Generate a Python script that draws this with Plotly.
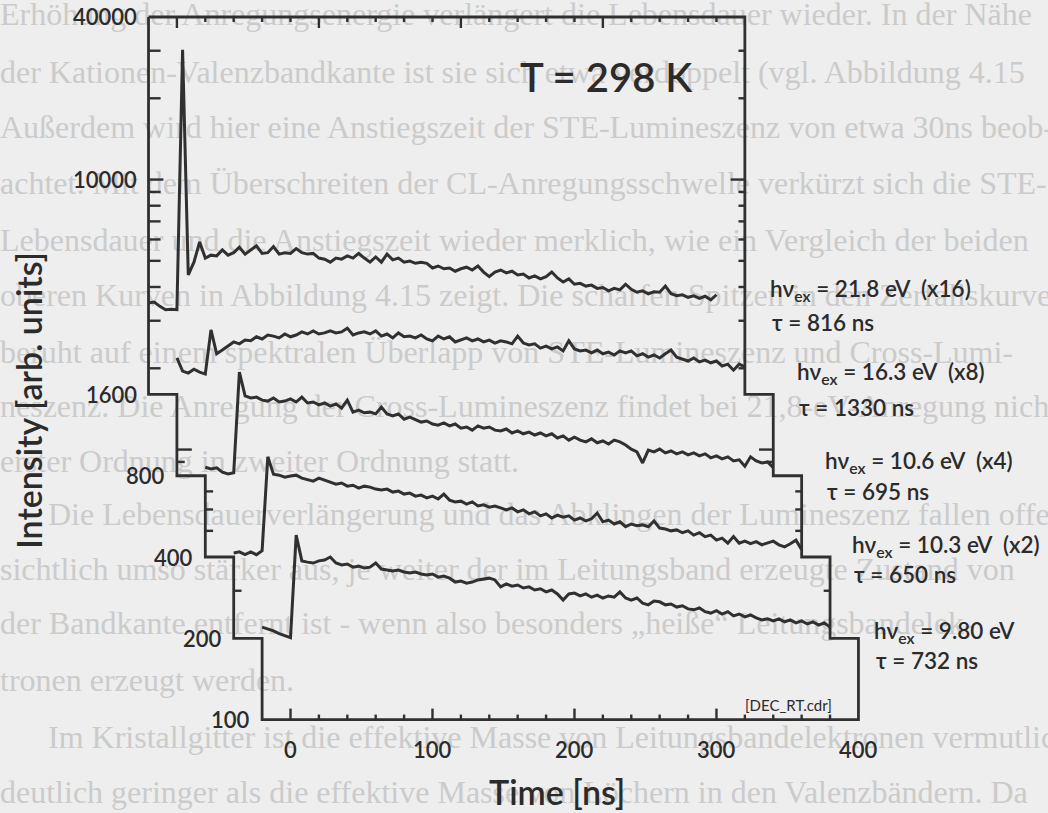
import numpy as np
import plotly.graph_objects as go

# Sample times of every transient, ns after the excitation pulse
t = np.arange(-20, 381, 4)

# Raw counts per channel, one list per excitation energy
counts_21_8 = [218, 220, 212, 206, 207, 206, 1890, 277, 309, 367,
               320, 328, 326, 343, 328, 335, 351, 331, 343, 355,
               333, 335, 353, 331, 335, 333, 347, 335, 331, 333,
               320, 317, 309, 320, 317, 326, 320, 333, 320, 309,
               323, 309, 331, 315, 320, 309, 312, 306, 309, 306,
               294, 299, 292, 294, 286, 292, 296, 289, 299, 284,
               273, 284, 289, 282, 286, 277, 279, 270, 275, 268,
               273, 284, 270, 261, 268, 256, 258, 252, 254, 247,
               249, 242, 247, 244, 256, 245, 239, 242, 236, 240,
               239, 252, 236, 232, 234, 229, 232, 227, 231, 224,
               234]
counts_16_3 = [273, 244, 240, 248, 242, 238, 347, 283, 292, 302,
               313, 308, 318, 316, 327, 321, 332, 329, 324, 335,
               327, 332, 341, 335, 344, 335, 338, 344, 338, 341,
               352, 332, 338, 341, 335, 344, 329, 335, 324, 338,
               327, 329, 324, 332, 321, 316, 329, 321, 327, 313,
               318, 324, 316, 321, 313, 318, 310, 316, 313, 308,
               329, 310, 305, 308, 297, 302, 295, 300, 290, 316,
               295, 290, 292, 285, 292, 283, 287, 280, 290, 285,
               290, 278, 283, 275, 280, 273, 283, 292, 275, 271,
               266, 273, 264, 268, 262, 266, 255, 259, 246, 259,
               253]
counts_10_6 = [215, 212, 214, 206, 203, 205, 484, 395, 388, 391,
               381, 378, 388, 375, 378, 385, 375, 391, 372, 375,
               366, 372, 362, 369, 356, 381, 344, 350, 342, 344,
               339, 359, 339, 333, 339, 324, 330, 322, 316, 319,
               311, 308, 314, 306, 311, 300, 303, 295, 306, 300,
               303, 295, 293, 298, 288, 293, 286, 290, 283, 288,
               281, 286, 276, 281, 271, 278, 271, 267, 274, 265,
               269, 262, 271, 267, 260, 251, 245, 223, 249, 245,
               251, 243, 247, 241, 245, 239, 243, 237, 241, 233,
               237, 231, 235, 227, 229, 217, 235, 227, 223, 225,
               214]
counts_10_3 = [207, 209, 204, 209, 204, 211, 470, 405, 402, 395,
               399, 402, 392, 388, 382, 392, 385, 379, 372, 376,
               366, 369, 360, 366, 363, 357, 354, 357, 348, 351,
               342, 345, 336, 339, 331, 336, 328, 342, 325, 320,
               322, 314, 320, 309, 312, 306, 309, 304, 299, 304,
               294, 299, 289, 294, 284, 289, 279, 286, 281, 284,
               274, 279, 272, 277, 291, 270, 274, 265, 270, 259,
               265, 261, 263, 259, 272, 256, 254, 250, 252, 246,
               250, 241, 246, 238, 241, 231, 235, 225, 238, 225,
               229, 224, 228, 222, 225, 229, 222, 218, 224, 231,
               213]
counts_9_80 = [220, 217, 213, 208, 204, 201, 482, 387, 383, 380,
               387, 390, 400, 380, 374, 377, 367, 370, 364, 367,
               380, 361, 358, 355, 358, 352, 349, 352, 346, 343,
               346, 337, 340, 334, 323, 326, 320, 323, 329, 332,
               334, 329, 310, 318, 312, 315, 307, 310, 302, 305,
               297, 302, 292, 277, 292, 294, 287, 292, 284, 289,
               282, 287, 284, 297, 282, 277, 282, 270, 266, 275,
               273, 266, 268, 261, 264, 257, 255, 259, 251, 248,
               253, 246, 251, 242, 246, 240, 244, 238, 234, 236,
               232, 236, 230, 234, 228, 232, 226, 230, 224, 228,
               220]

series = [counts_21_8, counts_16_3, counts_10_6, counts_10_3, counts_9_80]
energies = ["21.8", "16.3", "10.6", "10.3", "9.80"]
scale = [16, 8, 4, 2, 1]
lifetimes = [816, 1330, 695, 650, 732]

# Each transient sits in its own stepped panel, shifted in time
time_shift = [-80, -60, -40, -20, 0]
panel_floor = [1600, 800, 400, 200, 100]
panel_top = 40000
panel_span = (-20, 400)
y_tick_labels = [40000, 10000, 1600, 800, 400, 200, 100]
x_tick_labels = [0, 100, 200, 300, 400]

# Page text showing through behind the figure
page_lines = [
    "Erhöhung der Anregungsenergie verlängert die Lebensdauer wieder. In der Nähe",
    "der Kationen-Valenzbandkante ist sie sich etwa verdoppelt (vgl. Abbildung 4.15",
    "Außerdem wird hier eine Anstiegszeit der STE-Lumineszenz von etwa 30ns beob-",
    "achtet. Mit dem Überschreiten der CL-Anregungsschwelle verkürzt sich die STE-",
    "Lebensdauer und die Anstiegszeit wieder merklich, wie ein Vergleich der beiden",
    "oberen Kurven in Abbildung 4.15 zeigt. Die scharfen Spitzen in den Zerfallskurven",
    "beruht auf einem spektralen Überlapp von STE-Lumineszenz und Cross-Lumi-",
    "neszenz. Die Anregung der Cross-Lumineszenz findet bei 21,8-eV-Anregung nicht in",
    "erster Ordnung in zweiter Ordnung statt.",
    "      Die Lebensdauerverlängerung und das Abklingen der Lumineszenz fallen offen-",
    "sichtlich umso stärker aus, je weiter der im Leitungsband erzeugte Zustand von",
    "der Bandkante entfernt ist - wenn also besonders „heiße“ Leitungsbandelek-",
    "tronen erzeugt werden.",
    "      Im Kristallgitter ist die effektive Masse von Leitungsbandelektronen vermutlich",
    "deutlich geringer als die effektive Masse von Löchern in den Valenzbändern. Da",
]
page_line_y = [17, 75, 130, 186, 243, 298, 355, 409, 464, 517, 572, 626, 683, 740, 795]

W, H = 1048, 813
INK = "#303030"
TEXT = "#2b2b2b"
FONT = "Lato"
PX_PER_DECADE = H / (4.665 - 1.654)

fig = go.Figure()

# background page text (pixel-like layer underneath)
fig.add_trace(go.Scatter(
    x=[0] * len(page_lines), y=page_line_y, text=page_lines, mode="text",
    textposition="middle right", cliponaxis=False, hoverinfo="skip", showlegend=False,
    textfont=dict(family="Liberation Serif", size=32, color="#cbcbcb"),
))

# stepped frame around the five panels
lo, hi = panel_span
fx, fy = [time_shift[0] + lo], [panel_top]
for k in range(5):
    fx.append(time_shift[k] + lo); fy.append(panel_floor[k])
    if k < 4:
        fx.append(time_shift[k + 1] + lo); fy.append(panel_floor[k])
fx.append(time_shift[4] + hi); fy.append(panel_floor[4])
for k in range(4, -1, -1):
    ceil = panel_floor[k - 1] if k > 0 else panel_top
    fx.append(time_shift[k] + hi); fy.append(ceil)
    if k > 0:
        fx.append(time_shift[k - 1] + hi); fy.append(ceil)
fx.append(time_shift[0] + lo); fy.append(panel_top)
fig.add_trace(go.Scatter(x=fx, y=fy, mode="lines", xaxis="x2", yaxis="y2",
                         line=dict(color=INK, width=2.8), hoverinfo="skip", showlegend=False))


def minor_values(a, b):
    out = []
    for e in range(1, 6):
        for m in range(1, 10):
            v = m * 10 ** e
            if a < v < b:
                out.append(v)
    return out


tx, ty = [], []
for k in range(5):
    ceil = panel_floor[k - 1] if k > 0 else panel_top
    for v in minor_values(panel_floor[k], ceil):
        decade = np.isclose(np.log10(v) % 1, 0)
        left_len = 10.5 if decade else (8.5 if k == 0 else 5.5)
        right_len = 10.0 if decade else 4.5
        xl = time_shift[k] + lo
        xr = time_shift[k] + hi
        tx += [xl, xl + left_len, None, xr, xr - right_len, None]
        ty += [v, v, None, v, v, None]
for tt in range(0, 400, 20):
    major = tt % 100 == 0
    lpx = 11 if major else 5
    xt = time_shift[0] + tt
    tx += [xt, xt, None]
    ty += [panel_top, panel_top / 10 ** (lpx / PX_PER_DECADE), None]
    xb = time_shift[4] + tt
    tx += [xb, xb, None]
    ty += [panel_floor[4], panel_floor[4] * 10 ** (lpx / PX_PER_DECADE), None]
fig.add_trace(go.Scatter(x=tx, y=ty, mode="lines", xaxis="x2", yaxis="y2",
                         line=dict(color=INK, width=2.4), hoverinfo="skip", showlegend=False))

# decay transients, scaled by their factor and shifted into their panel
for k, counts in enumerate(series):
    fig.add_trace(go.Scatter(
        x=t + time_shift[k], y=np.asarray(counts, dtype=float) * scale[k],
        mode="lines", xaxis="x2", yaxis="y2",
        line=dict(color=INK, width=3.0), hoverinfo="skip", showlegend=False,
        name=f"{energies[k]} eV",
    ))

ann = []
for v in y_tick_labels:
    seg = panel_floor.index(v) if v in panel_floor else 0
    ann.append(dict(x=time_shift[seg] + lo - 7, y=np.log10(v), xref="x2", yref="y2",
                    text=str(v), xanchor="right", yanchor="middle", showarrow=False,
                    font=dict(family=FONT, size=22, color=TEXT, weight=600)))
for v in x_tick_labels:
    ann.append(dict(x=time_shift[4] + v, y=np.log10(panel_floor[4]), xref="x2", yref="y2",
                    text=str(v), xanchor="center", yanchor="top", yshift=-14, showarrow=False,
                    font=dict(family=FONT, size=22, color=TEXT, weight=600)))


def px(x):
    return x / W


def py(y):
    return 1 - y / H


label_pos = [(768, 290, 323), (795, 373, 407), (823, 462, 491), (850, 546, 574), (872, 632, 660)]
for k in range(5):
    xl, yh, yt = label_pos[k]
    txt = f"hν<sub>ex</sub> = {energies[k]} eV"
    if scale[k] > 1:
        txt += f"  (x{scale[k]})"
    ann.append(dict(x=px(xl), y=py(yh), xref="paper", yref="paper", text=txt,
                    xanchor="left", yanchor="middle", showarrow=False,
                    font=dict(family=FONT, size=22.5, color=TEXT, weight=600)))
    ann.append(dict(x=px(xl + 2), y=py(yt), xref="paper", yref="paper",
                    text=f"τ = {lifetimes[k]} ns", xanchor="left", yanchor="middle",
                    showarrow=False, font=dict(family=FONT, size=22.5, color=TEXT, weight=600)))

ann.append(dict(x=px(606), y=py(77), xref="paper", yref="paper", text="T = 298 K",
                showarrow=False, xanchor="center", yanchor="middle",
                font=dict(family=FONT, size=40, color=TEXT, weight=600)))
ann.append(dict(x=px(788), y=py(705), xref="paper", yref="paper", text="[DEC_RT.cdr]",
                showarrow=False, xanchor="center", yanchor="middle",
                font=dict(family=FONT, size=15, color=TEXT)))
ann.append(dict(x=px(557), y=py(791), xref="paper", yref="paper", text="Time [ns]",
                showarrow=False, xanchor="center", yanchor="middle",
                font=dict(family=FONT, size=34, color=TEXT, weight=600)))
ann.append(dict(x=px(28), y=py(401), xref="paper", yref="paper",
                text="Intensity [arb. units]", textangle=-90,
                showarrow=False, xanchor="center", yanchor="middle",
                font=dict(family=FONT, size=34, color=TEXT, weight=600)))

fig.update_layout(
    width=W, height=H,
    margin=dict(l=0, r=0, t=0, b=0),
    paper_bgcolor="#eeeeee", plot_bgcolor="rgba(0,0,0,0)",
    showlegend=False,
    xaxis=dict(range=[0, W], visible=False, fixedrange=True),
    yaxis=dict(range=[H, 0], visible=False, fixedrange=True),
    xaxis2=dict(range=[-204.6, 533.5], overlaying="x", anchor="y2", visible=False),
    yaxis2=dict(type="log", range=[1.654, 4.665], overlaying="y", anchor="x2", visible=False),
    annotations=ann,
)

fig.write_html("out.html")
